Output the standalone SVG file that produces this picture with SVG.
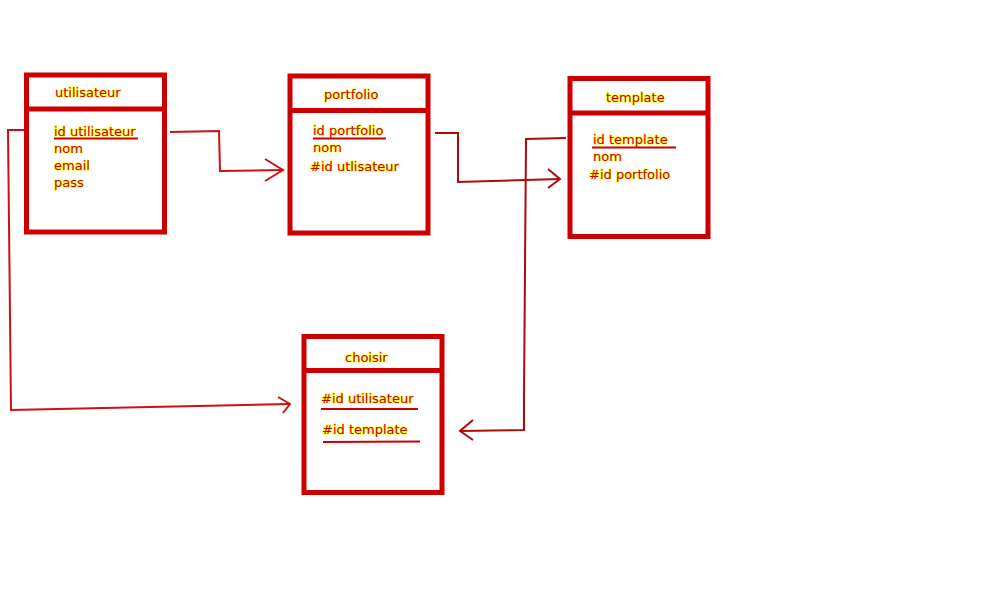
<svg xmlns="http://www.w3.org/2000/svg" width="1000" height="600" viewBox="0 0 1000 600">
<style>
.box{fill:#fff;stroke:#cc0000;stroke-width:5}
.div{stroke:#cc0000;stroke-width:5}
.t{font-family:"DejaVu Sans",sans-serif;font-size:13px;fill:#cc0000;stroke:#ffff40;stroke-width:1.6;paint-order:stroke;stroke-linejoin:round}
.ul{stroke:#cc0000;stroke-width:2;fill:none}
.c1{stroke:#cc1111;stroke-width:2;fill:none}
.c2{stroke:#aa0b0b;stroke-width:2;fill:none}
</style>
<rect width="1000" height="600" fill="#fff"/>
<g id="connectors">
<polyline class="c1" points="170,132 219,131 220,171 283,170"/>
<polyline class="c1" points="265,159 283,170 265,181"/>
<polyline class="c1" points="24,130 8,130 11,410 290,404"/>
<polyline class="c1" points="278,397 290,404 283,413"/>
<polyline class="c2" points="435,133 458,133 458,182 560,179"/>
<polyline class="c2" points="548,169 560,179 548,188"/>
<polyline class="c2" points="566,138 526,139 524,397 524,430 460,431"/>
<polyline class="c2" points="473,420 460,431 473,440"/>
</g>
<g id="utilisateur">
<rect class="box" x="26.5" y="75" width="138" height="157"/>
<line class="div" x1="26.5" y1="109" x2="164.5" y2="109"/>
<text class="t" x="55" y="97">utilisateur</text>
<text class="t" x="54" y="136">id utilisateur</text>
<line class="ul" x1="54" y1="138.5" x2="138" y2="138.5"/>
<text class="t" x="54" y="153">nom</text>
<text class="t" x="54" y="170">email</text>
<text class="t" x="54" y="187">pass</text>
</g>
<g id="portfolio">
<rect class="box" x="290" y="76" width="138" height="157"/>
<line class="div" x1="290" y1="110.5" x2="428" y2="110.5"/>
<text class="t" x="324" y="99">portfolio</text>
<text class="t" x="313" y="135">id portfolio</text>
<line class="ul" x1="313" y1="138.5" x2="386" y2="138.5"/>
<text class="t" x="313" y="152">nom</text>
<text class="t" x="310" y="171">#id utlisateur</text>
</g>
<g id="template">
<rect class="box" x="570" y="78.5" width="138" height="158"/>
<line class="div" x1="570" y1="113" x2="708" y2="113"/>
<text class="t" x="606" y="102">template</text>
<text class="t" x="593" y="144">id template</text>
<line class="ul" x1="592" y1="147.5" x2="676" y2="147.5"/>
<text class="t" x="593" y="161">nom</text>
<text class="t" x="589" y="179">#id portfolio</text>
</g>
<g id="choisir">
<rect class="box" x="304" y="336.5" width="138" height="156"/>
<line class="div" x1="304" y1="370.5" x2="442" y2="370.5"/>
<text class="t" x="345" y="362">choisir</text>
<text class="t" x="321" y="403">#id utilisateur</text>
<line class="ul" x1="321" y1="409" x2="418" y2="409"/>
<text class="t" x="322" y="434">#id template</text>
<line class="ul" x1="323" y1="442" x2="420" y2="441.5"/>
</g>
</svg>
